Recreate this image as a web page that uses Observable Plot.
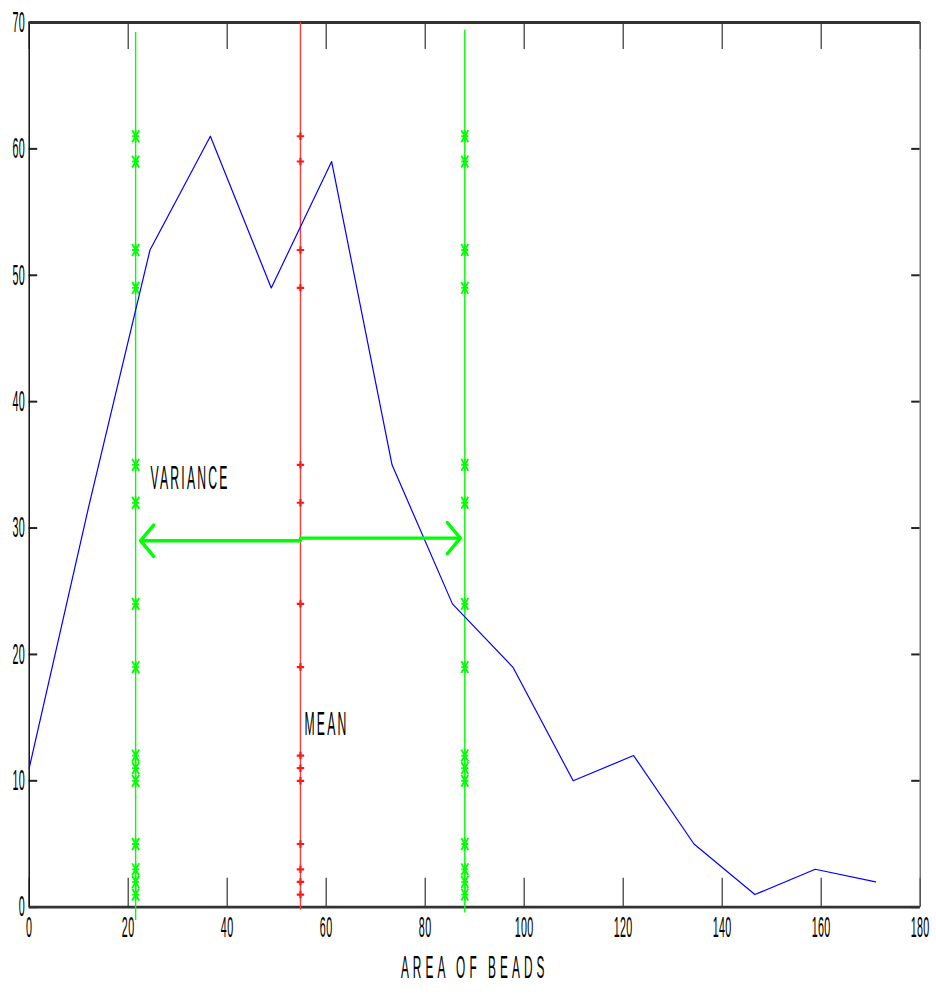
<!DOCTYPE html>
<html>
<head>
<meta charset="utf-8">
<script src="https://cdn.jsdelivr.net/npm/d3@7"></script>
<script src="https://cdn.jsdelivr.net/npm/@observablehq/plot@0.6"></script>
<style>
  html, body { margin: 0; padding: 0; background: #fff; }
</style>
</head>
<body>
<script>
// ---- data ----
const xVals = [0, 12.2, 24.4, 36.6, 48.9, 61.1, 73.3, 85.5, 97.7, 109.9, 122.1, 134.3, 146.6, 158.8, 171.0];
const yVals = [11, 32, 52, 61, 49, 59, 35, 24, 19, 10, 12, 5, 1, 3, 2];

const meanX = 54.8;
const lowerX = 21.5;   // mean - spread
const upperX = 88.0;   // mean + spread

const vLineX      = [lowerX, meanX, upperX];
const vLineTop    = [69.2, 70, 69.4];
const vLineBottom = [-1.05, -0.25, -0.45];
const vLineColor  = ["#00ff00", "#ff3b3b", "#00ff00"];

const arrowFrom = [meanX, meanX];
const arrowTo   = [22.5, 87.1];
const arrowY    = [29.0, 29.2];

const xTicks = [0, 20, 40, 60, 80, 100, 120, 140, 160, 180];
const yTicks = [0, 10, 20, 30, 40, 50, 60, 70];

const annotLabels = ["VARIANCE", "MEAN"];
const annotX = [24.5, 55.6];
const annotY = [33.9, 14.5];

const xLabel = "AREA OF BEADS";

// ---- layout ----
const W = 936, H = 999;
const mL = 28.7, mR = 16.3, mT = 22, mB = 92.3;
const plotW = W - mL - mR, plotH = H - mT - mB;

// MATLAB-like markers (stretched vertically, like the reference)
const starSym = {
  draw(c, size) {
    const r = Math.sqrt(size / Math.PI);
    const w = r * 0.8, h = r * 1.35;
    c.moveTo(-w, 0); c.lineTo(w, 0);
    c.moveTo(0, -h); c.lineTo(0, h);
    c.moveTo(-w, -h); c.lineTo(w, h);
    c.moveTo(-w, h); c.lineTo(w, -h);
  }
};
const plusSym = {
  draw(c, size) {
    const r = Math.sqrt(size / Math.PI);
    c.moveTo(-r, 0); c.lineTo(r, 0);
    c.moveTo(0, -r); c.lineTo(0, r);
  }
};

const greenMarks = [lowerX, upperX].flatMap(x => yVals.map(y => ({x, y})));
const redMarks = yVals.map(y => ({x: meanX, y}));
const vLines = vLineX.map((x, i) => ({x, y1: vLineBottom[i], y2: vLineTop[i], c: vLineColor[i]}));
const arrows = arrowFrom.map((x1, i) => ({x1, x2: arrowTo[i], y: arrowY[i]}));
const annots = annotLabels.map((t, i) => ({t, x: annotX[i], y: annotY[i]}));

const svg = Plot.plot({
  width: W, height: H,
  marginLeft: mL, marginRight: mR, marginTop: mT, marginBottom: mB,
  style: {background: "white", fontFamily: "'Liberation Sans', Arial, sans-serif", color: "black"},
  x: {domain: [0, 180], axis: null},
  y: {domain: [0, 70], axis: null},
  marks: [
    // inward ticks (MATLAB style)
    Plot.tickX(xTicks, {x: d => d, insetTop: plotH - 29, stroke: "#333", strokeWidth: 1.2}),
    Plot.tickX(xTicks, {x: d => d, insetBottom: plotH - 27, stroke: "#333", strokeWidth: 1.2}),
    Plot.tickY(yTicks, {y: d => d, insetRight: plotW - 8.5, stroke: "#222", strokeWidth: 2}),
    Plot.tickY(yTicks, {y: d => d, insetLeft: plotW - 8.5, stroke: "#222", strokeWidth: 2}),
    // box
    Plot.ruleX([0], {stroke: "#111", strokeWidth: 1.5}),
    Plot.ruleX([180], {stroke: "#555", strokeWidth: 1.2}),
    Plot.ruleY([0, 70], {stroke: "#333", strokeWidth: 2.8}),
    // vertical reference lines
    Plot.ruleX(vLines, {x: "x", y1: "y1", y2: "y2", stroke: "c", strokeWidth: 1.4}),
    Plot.dot(greenMarks, {x: "x", y: "y", symbol: starSym, r: 4.4, stroke: "#00ff00", strokeWidth: 1.8}),
    Plot.dot(redMarks, {x: "x", y: "y", symbol: plusSym, r: 3.7, stroke: "#ff1a1a", strokeWidth: 2.2}),
    // data line
    Plot.line(yVals, {x: xVals, y: yVals, stroke: "#0000ff", strokeWidth: 1.2}),
    // double arrow
    Plot.arrow(arrows, {x1: "x1", x2: "x2", y1: "y", y2: "y", stroke: "#00ff00", strokeWidth: 3.4, headLength: 9, headAngle: 100}),
    // annotations
    Plot.text(annots, {x: "x", y: "y", text: "t", textAnchor: "start", fontSize: 33, fill: "black"}),
    // tick labels
    Plot.text(xTicks, {x: d => d, frameAnchor: "bottom", dy: 30, text: d => String(d), fontSize: 29, fill: "black"}),
    Plot.text(yTicks, {y: d => d, frameAnchor: "left", dx: -4, textAnchor: "end", text: d => String(d), fontSize: 29, fill: "black"}),
    // axis label
    Plot.text([xLabel], {frameAnchor: "bottom", dy: 71, text: d => d, fontSize: 32, fill: "black"})
  ]
});

// Condense all text horizontally, like the narrow raster font of the original
const SX = 0.37;
svg.querySelectorAll("text").forEach(t => {
  const content = t.textContent;
  let ls = 1;
  if (content === xLabel) ls = 11;
  else if (annotLabels.includes(content)) ls = 6;
  t.style.letterSpacing = ls + "px";
  let tr = t.getAttribute("transform") || "";
  const xa = t.getAttribute("x");
  if (xa !== null && !isNaN(+xa)) {
    tr += ` translate(${+xa},0)`;
    t.removeAttribute("x");
  }
  t.setAttribute("transform", `${tr} scale(${SX},1)`);
});

document.body.appendChild(svg);
</script>
</body>
</html>
